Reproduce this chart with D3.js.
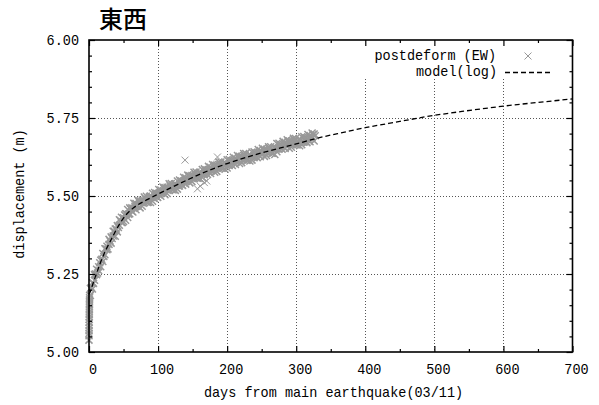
<!DOCTYPE html>
<html><head><meta charset="utf-8">
<script src="https://cdn.jsdelivr.net/npm/d3@7"></script>
<style>body{margin:0;background:#fff}svg{display:block}</style>
</head><body><svg id="c" width="599" height="405"></svg>
<script>
const title = "東西";
const xLabel = "days from main earthquake(03/11)";
const yLabel = "displacement (m)";
const legendObs = "postdeform (EW)";
const legendModel = "model(log)";
const xTicks = [0,100,200,300,400,500,600,700];
const yTicks = [5.00,5.25,5.50,5.75,6.00];
const yTickLabels = ["5.00","5.25","5.50","5.75","6.00"];

const obsDays = [2,5,8,11,14,17,20,23,26,29,32,35,38,41,44,47,50,53,56,59,62,65,68,71,74,77,80,83,86,89,92,95,98,101,104,107,110,113,116,119,122,125,128,131,134,137,140,143,146,149,152,155,158,161,164,167,170,173,176,179,182,185,188,191,194,197,200,203,206,209,212,215,218,221,224,227,230,233,236,239,242,245,248,251,254,257,260,263,266,269,272,275,278,281,284,287,290,293,296,299,302,305,308,311,314,317,320,323,326];
const obsValuesA = [5.204,5.202,5.248,5.248,5.273,5.273,5.316,5.312,5.339,5.361,5.349,5.372,
5.394,5.385,5.424,5.415,5.430,5.422,5.457,5.443,5.462,5.477,5.456,5.471,
5.485,5.467,5.497,5.482,5.492,5.479,5.509,5.492,5.509,5.521,5.499,5.514,
5.527,5.508,5.539,5.523,5.532,5.518,5.548,5.532,5.548,5.560,5.538,5.552,
5.565,5.546,5.576,5.560,5.569,5.555,5.585,5.568,5.583,5.595,5.572,5.586,
5.599,5.579,5.609,5.592,5.601,5.586,5.616,5.598,5.613,5.624,5.601,5.615,
5.627,5.607,5.636,5.619,5.627,5.612,5.641,5.623,5.638,5.649,5.626,5.638,
5.650,5.630,5.658,5.641,5.649,5.633,5.668,5.650,5.665,5.675,5.652,5.665,
5.676,5.656,5.685,5.667,5.676,5.661,5.690,5.672,5.686,5.697,5.674,5.687,5.699];
const obsValuesB = [5.181,5.222,5.230,5.265,5.261,5.294,5.290,5.331,5.328,5.345,5.369,5.387,
5.371,5.405,5.406,5.432,5.418,5.443,5.431,5.462,5.451,5.461,5.476,5.486,
5.462,5.487,5.479,5.499,5.480,5.500,5.483,5.511,5.498,5.505,5.519,5.529,
5.504,5.528,5.521,5.540,5.520,5.539,5.522,5.551,5.537,5.544,5.558,5.567,
5.542,5.566,5.558,5.577,5.557,5.576,5.559,5.587,5.572,5.579,5.592,5.601,
5.576,5.599,5.591,5.609,5.589,5.607,5.590,5.617,5.602,5.608,5.621,5.630,
5.604,5.627,5.618,5.636,5.615,5.633,5.615,5.642,5.627,5.633,5.646,5.653,
5.627,5.650,5.640,5.658,5.637,5.654,5.642,5.669,5.654,5.659,5.672,5.680,
5.653,5.676,5.667,5.684,5.664,5.682,5.664,5.691,5.675,5.681,5.694,5.702,5.676];
// second daily sample, taken half-way between the days above
const obsDaysC = [3.5,6.5,9.5,12.5,15.5,18.5,21.5,24.5,27.5,30.5,33.5,36.5,39.5,42.5,45.5,48.5,51.5,54.5,57.5,60.5,63.5,66.5,69.5,72.5,75.5,78.5,81.5,84.5,87.5,90.5,93.5,96.5,99.5,102.5,105.5,108.5,111.5,114.5,117.5,120.5,123.5,126.5,129.5,132.5,135.5,138.5,141.5,144.5,147.5,150.5,153.5,156.5,159.5,162.5,165.5,168.5,171.5,174.5,177.5,180.5,183.5,186.5,189.5,192.5,195.5,198.5,201.5,204.5,207.5,210.5,213.5,216.5,219.5,222.5,225.5,228.5,231.5,234.5,237.5,240.5,243.5,246.5,249.5,252.5,255.5,258.5,261.5,264.5,267.5,270.5,273.5,276.5,279.5,282.5,285.5,288.5,291.5,294.5,297.5,300.5,303.5,306.5,309.5,312.5,315.5,318.5,321.5,324.5,327.5];
const obsValuesC = [5.207,5.220,5.250,5.253,5.286,5.297,5.306,5.331,5.330,5.356,5.364,5.387,
5.394,5.399,5.421,5.415,5.439,5.442,5.442,5.458,5.449,5.467,5.467,5.482,
5.480,5.477,5.491,5.479,5.498,5.497,5.493,5.506,5.495,5.511,5.510,5.525,
5.522,5.518,5.533,5.520,5.538,5.536,5.532,5.546,5.534,5.550,5.549,5.563,
5.560,5.556,5.570,5.557,5.575,5.573,5.569,5.581,5.569,5.584,5.583,5.597,
5.593,5.589,5.602,5.589,5.606,5.604,5.599,5.611,5.598,5.613,5.612,5.625,
5.621,5.616,5.629,5.615,5.632,5.629,5.624,5.636,5.623,5.638,5.636,5.648,
5.644,5.639,5.651,5.637,5.654,5.653,5.651,5.663,5.650,5.664,5.662,5.675,
5.670,5.665,5.678,5.664,5.681,5.678,5.673,5.685,5.671,5.686,5.684,5.697,5.693];
const earlyDays = [0.0,0.05,0.1,0.15,0.2,0.25,0.3,0.35,0.4,0.45,0.5,0.55,0.6,0.65,0.7,0.75,0.8,0.85];
const earlyValues = [5.038,5.052,5.060,5.068,5.077,5.086,5.095,5.104,5.112,5.120,5.128,5.136,5.144,5.152,5.160,5.167,5.174,5.181];
const outlierDays = [139,186,157,161,167,170.5];
const outlierValues = [5.615,5.625,5.523,5.532,5.543,5.548];

const modelDays = [0,2,5,10,16,24,32,45,55,65,85,100,120,140,165,200,240,300,330,360,400,450,490,540,600,650,700];
const modelValues = [5.185,5.194,5.214,5.246,5.283,5.325,5.360,5.413,5.443,5.463,5.489,5.506,5.528,5.549,5.574,5.604,5.632,5.667,5.685,5.700,5.719,5.739,5.755,5.771,5.788,5.800,5.811];

const M = {l:89, r:572.5, t:40, b:352};
const FONT = "'Liberation Mono','DejaVu Sans Mono',monospace";
const FS = 15, CW = 8.1;
const svg = d3.select("#c");
const x = d3.scaleLinear().domain([0,700]).range([M.l, M.r]);
const y = d3.scaleLinear().domain([5,6]).range([M.b, M.t]);

function txt(g, s, attrs) {
  const t = g.append("text").text(s)
    .attr("font-family", FONT).attr("font-size", FS).attr("fill", "#000")
    .attr("textLength", s.length * CW).attr("lengthAdjust", "spacingAndGlyphs");
  for (const k in attrs) t.attr(k, attrs[k]);
  return t;
}

// grid
const grid = svg.append("g").attr("stroke", "#555").attr("stroke-width", 1).attr("stroke-dasharray", "1,2");
grid.selectAll(".gx").data(xTicks.filter(d => d > 0 && d < 700)).join("line")
  .attr("x1", d => Math.round(x(d)) + 0.5).attr("x2", d => Math.round(x(d)) + 0.5)
  .attr("y1", M.t).attr("y2", M.b);
grid.selectAll(".gy").data(yTicks.filter(d => d > 5 && d < 6)).join("line")
  .attr("y1", d => Math.round(y(d)) + 0.5).attr("y2", d => Math.round(y(d)) + 0.5)
  .attr("x1", M.l).attr("x2", M.r);

// legend background
svg.append("rect").attr("x", 335).attr("y", M.t).attr("width", M.r - 335).attr("height", 38).attr("fill", "#fff");

// clip
svg.append("defs").append("clipPath").attr("id", "clip").append("rect")
  .attr("x", M.l - 4).attr("y", M.t).attr("width", M.r - M.l + 4).attr("height", M.b - M.t);

const cross = "M-3.5,-3.5L3.5,3.5M-3.5,3.5L3.5,-3.5";
const pts = [];
obsDays.forEach((d, i) => { pts.push([d, obsValuesA[i]]); pts.push([d, obsValuesB[i]]); });
obsDaysC.forEach((d, i) => pts.push([d, obsValuesC[i]]));
earlyDays.forEach((d, i) => pts.push([d, earlyValues[i]]));
const plot = svg.append("g").attr("clip-path", "url(#clip)");
plot.selectAll("path.pt").data(pts).join("path").attr("class", "pt")
  .attr("d", cross).attr("transform", d => `translate(${x(d[0])},${y(d[1])})`)
  .attr("stroke", "#999").attr("stroke-width", 1.5).attr("fill", "none");
plot.selectAll("path.out").data(outlierDays).join("path").attr("class", "out")
  .attr("d", cross).attr("transform", (d, i) => `translate(${x(d)},${y(outlierValues[i])})`)
  .attr("stroke", "#999").attr("stroke-width", 1).attr("fill", "none");

const line = d3.line().x((d, i) => x(modelDays[i])).y(d => y(d)).curve(d3.curveMonotoneX);
plot.append("path").datum(modelValues).attr("d", line)
  .attr("fill", "none").attr("stroke", "#000").attr("stroke-width", 1.3).attr("stroke-dasharray", "5,3");

// axes (inward ticks)
const minorX = d3.range(0, 701, 50).filter(d => d % 100 !== 0);
const minorY = d3.range(5, 6.001, 0.05).filter((d, i) => i % 5 !== 0);
function axisSet(axisFn, scale, major, minor) {
  return g => {
    g.call(axisFn(scale).tickValues(major).tickSizeInner(-6).tickSizeOuter(0).tickFormat(""));
    g.append("g").call(axisFn(scale).tickValues(minor).tickSizeInner(-3).tickSizeOuter(0).tickFormat(""));
    g.selectAll(".domain").remove();
    g.selectAll("line").attr("stroke", "#000").attr("stroke-width", 1.2);
  };
}
svg.append("g").attr("transform", `translate(0,${M.b})`).call(axisSet(d3.axisBottom, x, xTicks, minorX));
svg.append("g").attr("transform", `translate(0,${M.t})`).call(axisSet(d3.axisTop, x, xTicks, minorX));
svg.append("g").attr("transform", `translate(${M.l},0)`).call(axisSet(d3.axisLeft, y, yTicks, minorY));
svg.append("g").attr("transform", `translate(${M.r},0)`).call(axisSet(d3.axisRight, y, yTicks, minorY));
svg.selectAll(".tick text").remove();

// border
svg.append("rect").attr("x", M.l).attr("y", M.t).attr("width", M.r - M.l).attr("height", M.b - M.t)
  .attr("fill", "none").attr("stroke", "#000").attr("stroke-width", 1.6);

// tick labels
const lab = svg.append("g");
xTicks.forEach(d => txt(lab, String(d), {x: x(d) + 4, y: 374, "text-anchor": "middle"}));
yTicks.forEach((d, i) => txt(lab, yTickLabels[i], {x: 79, y: y(d) + 5, "text-anchor": "end"}));

// axis titles
txt(lab, xLabel, {x: 333.5, y: 397, "text-anchor": "middle"});
txt(lab, yLabel, {"text-anchor": "middle", transform: "translate(24,194) rotate(-90)"});

// title
svg.append("text").text(title).attr("x", 99).attr("y", 28)
  .attr("font-family", "'Noto Sans CJK JP','Noto Sans CJK SC',sans-serif").attr("font-size", 24).attr("font-weight", 500);

// legend
txt(lab, legendObs, {x: 496, y: 59.5, "text-anchor": "end"});
txt(lab, legendModel, {x: 497, y: 76, "text-anchor": "end"});
svg.append("path").attr("d", cross).attr("transform", `translate(528,56)`)
  .attr("stroke", "#999").attr("stroke-width", 1).attr("fill", "none");
svg.append("line").attr("x1", 505).attr("x2", 553).attr("y1", 72.5).attr("y2", 72.5)
  .attr("stroke", "#000").attr("stroke-width", 1.3).attr("stroke-dasharray", "5,3");
</script></body></html>
